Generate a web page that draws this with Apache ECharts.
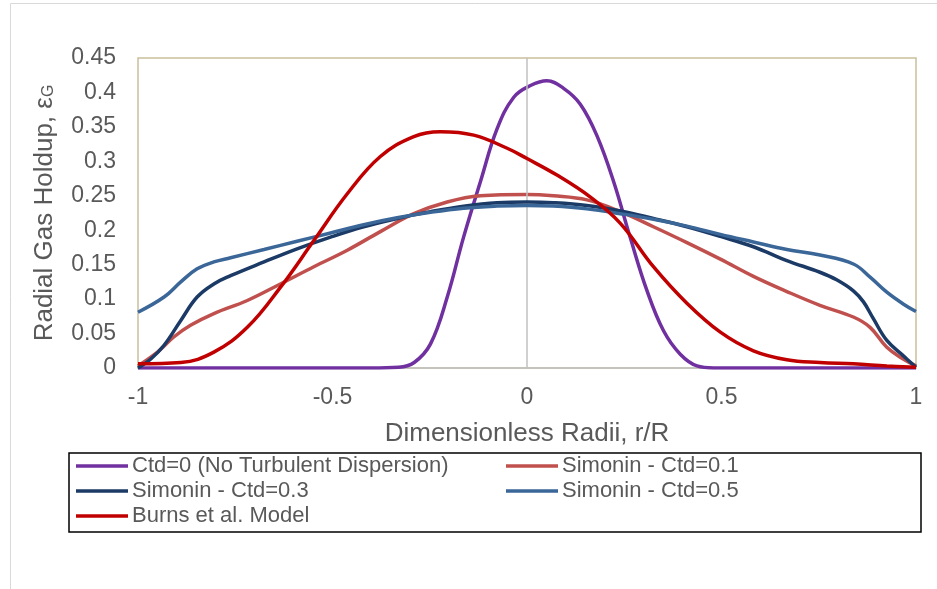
<!DOCTYPE html>
<html>
<head>
<meta charset="utf-8">
<script src="https://cdn.jsdelivr.net/npm/echarts@6/dist/echarts.min.js"></script>
<style>
  html, body { margin: 0; padding: 0; background: #fff; }
  #chart { width: 937px; height: 589px; }
</style>
</head>
<body>
<div id="chart"></div>
<script>
// Radial gas holdup profiles across the column (r/R from -1 to 1)
const seriesNames = [
  'Ctd=0 (No Turbulent Dispersion)',
  'Simonin - Ctd=0.1',
  'Simonin - Ctd=0.3',
  'Simonin - Ctd=0.5',
  'Burns et al. Model'
];

const xCtd0 = [-1, -0.6, -0.4, -0.33, -0.29, -0.248, -0.205, -0.163, -0.12, -0.077, -0.034, 0.009, 0.051, 0.094, 0.137, 0.18, 0.223, 0.265, 0.308, 0.351, 0.394, 0.437, 0.48, 0.7, 1];
const yCtd0 = [0, 0, 0, 0.001, 0.008, 0.035, 0.103, 0.19, 0.27, 0.347, 0.393, 0.41, 0.417, 0.406, 0.383, 0.337, 0.27, 0.19, 0.113, 0.054, 0.020, 0.003, 0, 0, 0];

const xCtd01 = [-1, -0.95, -0.908, -0.865, -0.805, -0.719, -0.634, -0.548, -0.462, -0.377, -0.291, -0.205, -0.12, 0, 0.068, 0.154, 0.24, 0.325, 0.411, 0.497, 0.582, 0.668, 0.753, 0.839, 0.882, 0.925, 0.967, 1];
const yCtd01 = [0.003, 0.023, 0.045, 0.062, 0.079, 0.098, 0.122, 0.147, 0.171, 0.198, 0.224, 0.241, 0.25, 0.252, 0.25, 0.244, 0.227, 0.205, 0.182, 0.158, 0.133, 0.111, 0.091, 0.074, 0.059, 0.03, 0.013, 0.003];

const xCtd03 = [-1, -0.967, -0.933, -0.89, -0.848, -0.805, -0.762, -0.676, -0.591, -0.505, -0.42, -0.334, -0.248, -0.163, -0.077, 0, 0.068, 0.154, 0.24, 0.325, 0.411, 0.497, 0.582, 0.668, 0.753, 0.796, 0.839, 0.865, 0.89, 0.925, 0.967, 1];
const yCtd03 = [0, 0.013, 0.033, 0.069, 0.103, 0.122, 0.134, 0.154, 0.173, 0.19, 0.205, 0.217, 0.227, 0.235, 0.24, 0.241, 0.24, 0.236, 0.228, 0.217, 0.205, 0.191, 0.176, 0.156, 0.139, 0.128, 0.112, 0.096, 0.072, 0.04, 0.018, 0.001];

const xCtd05 = [-1, -0.933, -0.89, -0.848, -0.805, -0.762, -0.676, -0.591, -0.505, -0.42, -0.334, -0.248, -0.163, -0.077, 0, 0.068, 0.154, 0.24, 0.325, 0.411, 0.497, 0.582, 0.668, 0.753, 0.839, 0.882, 0.925, 0.967, 1];
const yCtd05 = [0.081, 0.103, 0.125, 0.144, 0.154, 0.160, 0.172, 0.184, 0.196, 0.208, 0.218, 0.226, 0.232, 0.235, 0.236, 0.235, 0.231, 0.224, 0.216, 0.206, 0.194, 0.183, 0.172, 0.164, 0.151, 0.132, 0.11, 0.093, 0.082];

const xBurns = [-1, -0.89, -0.805, -0.719, -0.634, -0.548, -0.462, -0.377, -0.291, -0.223, -0.137, -0.051, 0, 0.077, 0.163, 0.24, 0.325, 0.411, 0.497, 0.582, 0.668, 0.753, 0.839, 0.925, 1];
const yBurns = [0.006, 0.008, 0.023, 0.059, 0.117, 0.185, 0.253, 0.307, 0.336, 0.343, 0.338, 0.319, 0.304, 0.28, 0.248, 0.21, 0.147, 0.094, 0.052, 0.025, 0.012, 0.008, 0.006, 0.003, 0.001];

const xTicks = [-1, -0.5, 0, 0.5, 1];
const yTicks = [0, 0.05, 0.1, 0.15, 0.2, 0.25, 0.3, 0.35, 0.4, 0.45];

const colors = ['#7030a0', '#c0504d', '#1b3a66', '#3a6698', '#c00000'];
const xs = [xCtd0, xCtd01, xCtd03, xCtd05, xBurns];
const ys = [yCtd0, yCtd01, yCtd03, yCtd05, yBurns];

const textColor = '#595959';
const font = 'Liberation Sans, Arial, sans-serif';

function pairs(x, y) { return x.map((v, i) => [v, y[i]]); }

const curveSeries = seriesNames.map((name, i) => ({
  name: name,
  type: 'line',
  data: pairs(xs[i], ys[i]),
  smooth: 0.4,
  symbol: 'none',
  color: colors[i],
  lineStyle: { width: 3.5, color: colors[i] },
  z: 3 + i
}));

// vertical reference line at r/R = 0
const zeroLine = {
  name: 'zero',
  type: 'line',
  data: [],
  z: 1,
  markLine: {
    silent: true,
    symbol: 'none',
    label: { show: false },
    lineStyle: { color: '#c0c0c0', width: 1.5, type: 'solid' },
    data: [{ xAxis: 0 }]
  }
};

// legend laid out as two columns inside a framed box
const legendSlots = [[76, 466], [506, 466], [76, 491], [506, 491], [76, 516]];
const legends = seriesNames.map((name, i) => ({
  data: [name],
  left: legendSlots[i][0],
  top: legendSlots[i][1] - 11,
  padding: 0,
  icon: 'rect',
  itemWidth: 52, itemHeight: 3.5,
  textStyle: { color: textColor, fontSize: 22, fontFamily: font, padding: [0, 0, 0, -1] }
}));

const chart = echarts.init(document.getElementById('chart'), null, { renderer: 'canvas' });
chart.setOption({
  animation: false,
  textStyle: { fontFamily: font },
  grid: {
    left: 138, right: 21, top: 58, bottom: 221,
    show: true, borderColor: '#c9c09b', borderWidth: 1.5, backgroundColor: 'transparent'
  },
  xAxis: {
    type: 'value',
    min: xTicks[0], max: xTicks[xTicks.length - 1], interval: 0.5,
    axisLine: { show: true, onZero: false, lineStyle: { color: '#c0c0c0', width: 1.5 } },
    axisTick: { show: false },
    splitLine: { show: false },
    axisLabel: { color: textColor, fontSize: 23, margin: 18, fontFamily: font },
    name: 'Dimensionless Radii, r/R',
    nameLocation: 'middle',
    nameGap: 53,
    nameTextStyle: { color: textColor, fontSize: 26, fontFamily: font }
  },
  yAxis: {
    type: 'value',
    min: yTicks[0], max: yTicks[yTicks.length - 1], interval: 0.05,
    axisLine: { show: false },
    axisTick: { show: false },
    splitLine: { show: false },
    axisLabel: { color: textColor, fontSize: 23, margin: 22, fontFamily: font },
    name: '{a|Radial Gas Holdup, ε}{s|G}',
    nameLocation: 'middle',
    nameGap: 80,
    nameTextStyle: {
      color: textColor, fontFamily: font,
      rich: {
        a: { fontSize: 26, color: textColor, fontFamily: font },
        s: { fontSize: 16, color: textColor, fontFamily: font, padding: [8, 0, 0, 0] }
      }
    }
  },
  legend: legends,
  graphic: [
    {
      type: 'rect', silent: true, z: -10,
      shape: { x: 10.5, y: 3.5, width: 1000, height: 1000 },
      style: { fill: 'none', stroke: '#d9d9d9', lineWidth: 1 }
    },
    {
      type: 'rect', silent: true, z: 0,
      shape: { x: 69, y: 453, width: 852, height: 79 },
      style: { fill: 'none', stroke: '#000', lineWidth: 1.5 }
    }
  ],
  series: [zeroLine].concat(curveSeries)
});
</script>
</body>
</html>
